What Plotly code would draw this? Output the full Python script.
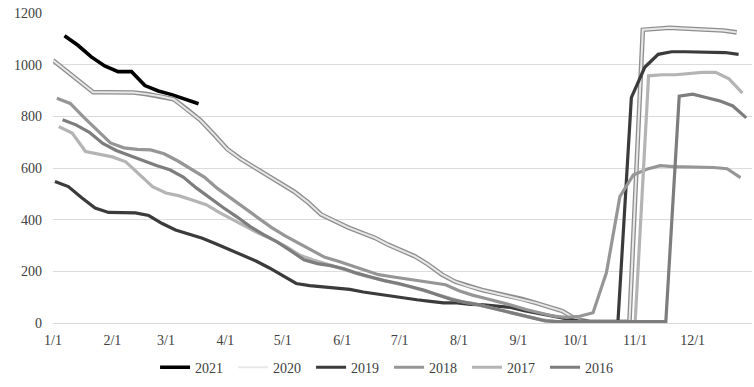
import pandas as pd
import plotly.graph_objects as go

# ---- data (weekly observations, plotted on a common Jan-Dec calendar) ----
years = ["2021", "2020", "2019", "2018", "2017", "2016"]
start_dates = {
    "2021": "2021-01-07",
    "2020": "2021-01-01",
    "2019": "2021-01-02",
    "2018": "2021-01-03",
    "2017": "2021-01-04",
    "2016": "2021-01-06",
}

v2021 = [1112, 1075, 1030, 995, 973, 973, 919, 898, 884, 866, 849]

v2020 = [1017, 976, 935, 893, 893, 893, 892, 886, 878, 866,
         827, 785, 730, 673, 635, 603, 570, 540, 508, 468,
         420, 395, 370, 350, 330, 303, 280, 258, 226, 188,
         160, 142, 128, 116, 105, 93, 78, 62, 46, 15,
         5, 5, 5, 5, 1135, 1140, 1143, 1140, 1138, 1136,
         1132, 1125]

v2019 = [548, 528, 485, 445, 428, 426, 426, 416, 385, 360,
         343, 328, 307, 284, 262, 240, 213, 183, 153, 145,
         140, 136, 130, 120, 112, 106, 98, 90, 84, 78,
         78, 72, 70, 66, 60, 48, 38, 28, 15, 8,
         5, 5, 5, 872, 990, 1040, 1050, 1050, 1050, 1050,
         1047, 1040]

v2018 = [870, 850, 797, 745, 697, 678, 672, 670, 655, 628,
         598, 565, 520, 482, 446, 408, 370, 338, 310, 283,
         254, 239, 222, 204, 187, 179, 171, 163, 155, 148,
         125, 108, 95, 82, 68, 52, 38, 27, 22, 26,
         40, 195, 489, 573, 595, 609, 605, 605, 605, 602,
         597, 563]

v2017 = [760, 735, 664, 655, 643, 624, 574, 528, 503, 492,
         475, 458, 427, 398, 372, 345, 322, 295, 262, 244,
         229, 212, 196, 180, 166, 155, 143, 128, 112, 96,
         84, 74, 62, 50, 38, 25, 12, 6, 5, 5,
         5, 5, 5, 5, 957, 961, 961, 965, 970, 970,
         945, 890]

v2016 = [787, 767, 738, 695, 668, 648, 630, 610, 593, 565,
         522, 483, 446, 411, 373, 342, 314, 280, 245, 230,
         222, 210, 192, 178, 164, 154, 142, 127, 108, 91,
         80, 71, 58, 45, 32, 18, 8, 5, 5, 5,
         5, 5, 5, 5, 5, 5, 878, 886, 873, 860,
         840, 794]

values = {"2021": v2021, "2020": v2020, "2019": v2019,
          "2018": v2018, "2017": v2017, "2016": v2016}

tick_vals = ["2021-%02d-01" % m for m in range(1, 13)]
tick_text = ["%d/1" % m for m in range(1, 13)]

colors = {"2021": "#000000", "2020": "#e8e8e8", "2019": "#3b3b3b",
          "2018": "#969696", "2017": "#b4b4b4", "2016": "#7d7d7d"}
widths = {"2021": 3.6, "2020": 2.0, "2019": 3.2,
          "2018": 3.2, "2017": 3.2, "2016": 3.2}

fig = go.Figure()
for y in years:
    xs = pd.date_range(start_dates[y], periods=len(values[y]), freq="7D")
    if y == "2020":
        fig.add_trace(go.Scatter(x=xs, y=values[y], mode="lines",
                                 line=dict(color="#8e8e8e", width=4.6),
                                 showlegend=False, hoverinfo="skip",
                                 legendgroup=y))
    fig.add_trace(go.Scatter(x=xs, y=values[y], mode="lines", name=y,
                             legendgroup=y,
                             line=dict(color=colors[y], width=widths[y])))

font_family = "Liberation Serif, DejaVu Serif, serif"
fig.update_layout(
    width=754, height=387,
    margin=dict(l=53, r=2, t=13, b=64),
    plot_bgcolor="white", paper_bgcolor="white",
    font=dict(family=font_family, size=14, color="#404040"),
    xaxis=dict(range=["2021-01-01", "2022-01-01"], tickvals=tick_vals,
               ticktext=tick_text, showgrid=False, showline=True,
               linecolor="#d9d9d9", linewidth=1, ticks="",
               ticklabelstandoff=4, zeroline=False),
    yaxis=dict(range=[0, 1200], tickvals=[0, 200, 400, 600, 800, 1000, 1200],
               showgrid=True, gridcolor="#dcdcdc", gridwidth=1,
               zeroline=False, ticks="", ticklabelstandoff=10),
    legend=dict(orientation="h", x=0.146, xanchor="left",
                yref="container", y=0.05, yanchor="middle",
                entrywidth=33, font=dict(size=14),
                traceorder="normal"),
)

fig.write_html("out.html",
               config={"displayModeBar": False},
               post_script="document.body.style.margin='0';")
